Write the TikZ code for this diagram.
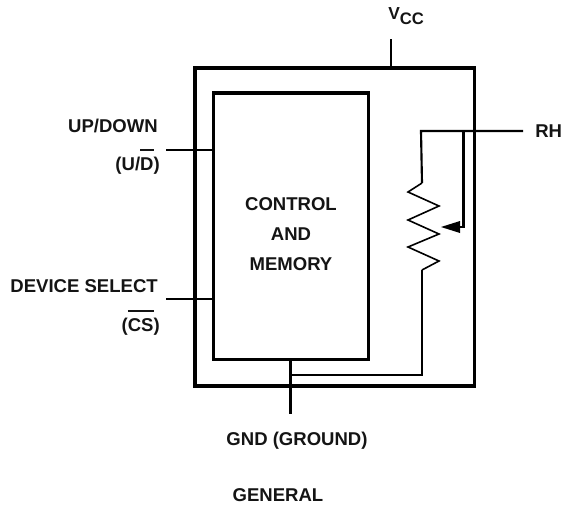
\documentclass[tikz,border=0pt]{standalone}
\usepackage{fontspec}
\setmainfont{Liberation Sans}
\newcommand{\ovbar}[1]{\leavevmode\setbox0=\hbox{#1}\rlap{\rule[14.6pt]{\wd0}{1.1pt}}\box0}
\tikzset{
  px/.style={x=0.75pt,y=-0.75pt},
  lbl/.style={font=\bfseries\fontsize{13.9}{16}\selectfont,inner sep=0pt,text=black!92},
  boxline/.style={draw=black,line width=2.4pt,inner sep=0pt,outer sep=0pt},
  wire/.style={draw=black,line width=1.6pt},
  zig/.style={draw=black,line width=1.2pt,line join=miter},
}
\begin{document}
\begin{tikzpicture}[px]
\useasboundingbox (0,0) rectangle (561,507);
% boxes
\node[boxline,minimum width=209.5pt,minimum height=238.5pt,anchor=north west] (outer) at (195,68) {};
\node[boxline,minimum width=116.1pt,minimum height=199.9pt,anchor=north west] (inner) at (213.5,93) {};
% connector ends
\coordinate (vccend) at (391,39);
\coordinate (vccbox) at (391,68);
\coordinate (udend) at (166,150);
\coordinate (udin) at (214,150);
\coordinate (csend) at (166,299);
\coordinate (csin) at (214,299);
\coordinate (gndtop) at (290.5,359);
\coordinate (gndend) at (290.5,414);
\coordinate (gndtee) at (290.5,375);
\coordinate (rcorner) at (422,375);
\coordinate (rbot) at (422,270);
\coordinate (rtop) at (422,183);
\coordinate (tcorner) at (421,131);
\coordinate (rhend) at (523,131);
\coordinate (wtop) at (463.5,131);
\coordinate (wcorner) at (463.5,227);
\coordinate (wbase) at (460,227);
\coordinate (wtip) at (441,227);
% wires
\draw[wire] (vccend) -- (vccbox);
\draw[wire] (udend) -- (udin);
\draw[wire] (csend) -- (csin);
\draw[wire] (gndtop) -- (gndend);
\draw[wire,line join=miter] (gndtee) -- (rcorner) -- (rbot);
\draw[wire,line join=miter] (rhend) -- (tcorner) -- (rtop);
\draw[wire,line join=miter] (wtop) -- (wcorner) -- (wbase);
\draw[zig] (rtop) -- (408,192) -- (439,206) -- (408,220) -- (439,234) -- (408,247) -- (439,261) -- (rbot);
\fill[black] (wtip) -- (460,221) -- (460,233) -- cycle;
% labels
\node[lbl,anchor=base west] (vcc) at (388,19) {\fontsize{13}{16}\selectfont V\raisebox{-4pt}{\fontsize{12.5}{16}\selectfont CC}};
\node[lbl,anchor=base east] (up) at (158,132) {UP/DOWN};
\node[lbl,anchor=base east] (ud) at (160,170) {(U/\ovbar{D})};
\node[lbl,anchor=base east] (dev) at (158,292) {DEVICE SELECT};
\node[lbl,anchor=base east] (cs) at (160,331) {(\ovbar{CS})};
\node[lbl,anchor=base] (c1) at (291,210) {CONTROL};
\node[lbl,anchor=base] (c2) at (291,240) {AND};
\node[lbl,anchor=base] (c3) at (291,270) {MEMORY};
\node[lbl,anchor=base west] (rh) at (535,137) {RH};
\node[lbl,anchor=base] (gnd) at (297,445) {GND (GROUND)};
\node[lbl,anchor=base] (gen) at (278,501) {GENERAL};
\end{tikzpicture}
\end{document}
